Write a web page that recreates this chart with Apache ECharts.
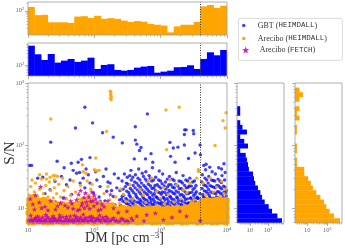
<!DOCTYPE html>
<html><head><meta charset="utf-8">
<script src="https://cdn.jsdelivr.net/npm/echarts@6/dist/echarts.min.js"></script>
<style>html,body{margin:0;padding:0;background:#fff}#c{width:345px;height:250px}</style>
</head><body><div id="c"></div><script>
// ---------- data ----------
const seriesNames = ['GBT (HEIMDALL)', 'Arecibo (HEIMDALL)', 'Arecibo (FETCH)'];
const dmThreshold = 3981;
const dmTicks = [10, 100, 1000, 10000];
const dmMinorTicks = [20,30,40,50,60,70,80,90,200,300,400,500,600,700,800,900,2000,3000,4000,5000,6000,7000,8000,9000];
const snTicks = [10, 100, 1000];
const snMinorTicks = [6,7,8,9,20,30,40,50,60,70,80,90,200,300,400,500,600,700,800,900];
const countTicks = [10, 100];
const countMinorTicks = [3,4,5,6,7,8,9,20,30,40,50,60,70,80,90,200,300,400,500,600,700];
const histTopTicks = [100];
const histTopMinorTicks = [20,30,40,50,60,70,80,90,200,300,400,500,600,700];

const dmBinCenters = [11.2,14.1,17.8,22.4,28.2,35.5,44.7,56.2,70.8,89.1,112,141,178,224,282,355,447,562,708,891,1122,1413,1778,2239,2818,3548,4467,5623,7079,8913];
const areciboDmCounts = [141,67,69,35,35,35,33,59,61,52,63,48,51,48,41,36,39,37,30,28,26,14,24,28,28,36,149,169,128,158];
const gbtDmCounts = [592,268,158,275,124,149,174,132,149,196,69,100,107,63,59,63,78,86,91,49,54,59,81,83,97,69,174,322,244,398];

const snBinCenters = [6.27,7.45,8.86,10.5,12.5,14.9,17.7,21.0,25.0,29.7,35.3,42.0,49.9,59.3,70.4,83.7,99.5,118,141,167,199,236,281,334,397,471,560,666,791,940];
const gbtSnCounts = [580,325,166,109,66,47,38,28,20,17,15,9,8,7,6,3,8,5,3,7,4,3,0,3,3,0,0,0,0,0];
const areciboSnCounts = [430,215,130,89,68,45,28,19,15,11,7,7,3,3,0,3,3,0,0,3,3,0,4,3,4,0,4,6,4,0];

const gbtPoints = [
[72,410],[94,230],[52,190],[22,113],[133,160],[193,136],[10.5,48],[11.3,48],[27.5,56],[45,52],[57,54],[64,60],[86,64],
[630,320],[415,200],[2300,178],[2420,178],[3100,174],[3150,154],[2280,150],[264,110],[415,122],[437,105],[479,83],[505,93],[1380,112],[2275,102],[3925,102],[1550,91],[1820,94],[3300,76],[3980,71],[716,74],[1410,67],[400,61],[590,61],[760,54],[1650,54],[2630,62],[4840,50],[4460,48],[5500,45],[7500,44],[9000,51],
[16.7,31],[25.5,26.7],[32,32],[38,23.6],[43,28],[54,36],[61,25],[68,30],[72,21],[81,34],[86,25],[97,17.4],[109,28],[122,22],[137,32],[154,18.5],[173,25],[194,15.3],[218,21],[45.5,16.4],[34,14.5],[21.5,19.6],[77,13.6],[57.5,12],[122,12.8],[205,11.3],[35,44],[48,40],[60,37],[75,42],
[105,38],[118,15],[145,13],[160,26],[182,19],[230,30],[240,13.5],[150,42],[200,35],[14,30],[18,17],[26,12.5],[40,11.5],[65,10.8],[90,11.2],
[248,11],[257,14],[243,19],[262,27],
[281,10],[290,12.5],[276,16],[294,22],[284,35],
[316,9.5],[327,11.5],[311,13.5],[331,17.5],[322,24],[314,31],
[355,10.5],[368,12],[350,15],[372,19],[361,28],[357,40],
[404,9.2],[418,11],[399,13],[422,16.5],[411,21],[405,26],[416,34],
[452,10],[469,12.2],[447,14.5],[474,18],[461,23],[455,30],[466,42],
[512,9.4],[529,10.8],[506,12.8],[535,15.5],[521,19.5],[514,25],[527,36],
[581,9.8],[600,11.6],[574,13.8],[606,17],[592,21.5],[584,29],[597,38],
[650,9.1],[672,10.5],[644,12.4],[679,14.8],[663,18.5],[655,24],[669,33],
[728,9.6],[754,11.3],[721,13.2],[760,16],[743,20.5],[733,27],[750,44],
[817,9.3],[845,10.9],[809,12.7],[853,15.2],[834,19],[822,23],[841,31],
[925,9.9],[956,11.8],[916,14],[965,17.5],[944,22],[931,28],[951,39],
[1043,9.2],[1078,10.6],[1032,12.3],[1089,14.6],[1064,18],[1050,24.5],[1072,35],
[1171,9.7],[1211,11.4],[1159,13.5],[1223,16.3],[1195,20],[1180,26],
[1318,9.4],[1363,10.9],[1305,12.9],[1377,15.4],[1346,19],[1328,23.5],[1356,32],
[1486,9.8],[1536,11.7],[1470,13.9],[1552,17.2],[1517,21.5],[1497,29],
[1673,9.1],[1729,10.7],[1655,12.5],[1747,15],[1708,18.7],[1685,24],[1720,37],
[1880,9.6],[1943,11.2],[1860,13.3],[1963,16.1],[1918,20.3],[1893,27],
[2116,9.3],[2187,10.8],[2093,12.8],[2209,15.6],[2159,19.4],[2130,25],[2175,33],
[2381,9.9],[2462,11.6],[2356,13.7],[2487,16.8],[2431,21],[2398,28],
[2676,9.2],[2767,10.5],[2648,12.2],[2795,14.4],[2732,17.6],[2695,22.5],[2751,30],
[3011,9.7],[3113,11.3],[2979,13.1],[3145,15.8],[3073,19.8],[3032,26],
[3385,9.5],[3499,11],[3349,12.6],[3535,14.9],[3455,18.2],[3408,23],
[3739,10.2],[3866,12],[3700,14.2],[3905,17],
[4133,9.4],[4273,11.2],[4090,13.6],[4316,16.5],[4218,20.5],[4160,26],[4250,34],
[4625,10.1],[4782,12.1],[4577,14.8],[4830,18.4],[4721,23],[4656,30],[4757,41],
[5166,9.2],[5341,11],[5112,13.2],[5395,16],[5273,19.8],[5200,25],[5313,32],
[5806,9.8],[6003,11.7],[5745,14.2],[6063,17.6],[5926,22],[5844,28],[5971,38],
[6495,9.5],[6715,11.3],[6427,13.7],[6782,16.8],[6629,21],[6538,27],[6680,35],
[7282,10],[7529,12],[7206,14.6],[7604,18],[7433,22.5],[7330,29],
[8168,9.3],[8445,11.1],[8083,13.4],[8529,16.4],[8337,20.2],[8221,25.5],[8400,33],[8280,42],
[9152,9.9],[9462,11.8],[9056,14.3],[9556,17.4],[9341,21.6],[9211,28],[9410,37],
[267,10.3],[270,12.8],[264,15.4],[272,20],
[302,9.8],[306,11.8],[299,14.2],[309,18.6],[304,25],
[340,10.6],[345,12.9],[336,16],[349,20.5],[342,33],
[383,9.9],[389,11.6],[378,14],[392,17.6],[386,23],[380,31],
[434,10.4],[440,12.4],[428,15.2],[444,19.5],[436,25],
[490,9.7],[497,11.5],[484,13.7],[501,16.8],[493,21.5],[487,28],
[553,10.2],[561,12.1],[546,14.6],[566,18],[556,23],[550,32],
[624,9.6],[633,11.2],[616,13.3],[639,16.2],[627,20],[620,27],
[700,10.1],[710,11.9],[692,14.3],[716,17.6],[704,22.5],[696,30],
[785,9.8],[796,11.6],[776,13.9],[803,16.9],[790,21],[781,28],
[885,10.3],[897,12.2],[874,14.8],[905,18],[890,23.5],
[1000,9.7],[1015,11.5],[988,13.6],[1023,16.6],[1006,20.8],[994,27],
[1125,10.2],[1141,12],[1111,14.6],[1150,17.8],[1131,22.6],
[1265,9.9],[1283,11.8],[1250,14.1],[1294,17.3],[1272,21.8],[1258,29],
[1425,10.4],[1446,12.3],[1408,14.9],[1457,18.3],[1433,23.5],
[1600,9.8],[1623,11.5],[1581,13.7],[1636,16.8],[1609,21],[1591,27.5],
[1805,10.1],[1831,12],[1784,14.5],[1846,17.8],[1815,22.5],
[2030,9.7],[2060,11.4],[2006,13.5],[2076,16.5],[2042,20.6],[2019,26.5],
[2285,10.3],[2318,12.2],[2258,14.8],[2337,18.1],[2298,23],
[2570,9.9],[2607,11.7],[2540,14],[2628,17.1],[2585,21.4],[2556,27],
[2890,10.2],[2932,12],[2856,14.5],[2955,17.8],[2906,22.4],
[3250,9.8],[3297,11.6],[3212,13.9],[3324,16.9],[3268,21],[3232,27],
[3620,10.1],[3672,11.9],[3578,14.3],
[4450,10.4],[4514,12.4],[4398,15.2],[4551,18.8],[4475,23.5],
[4980,9.8],[5052,11.6],[4921,14],[5093,17.2],[5008,21.8],[4950,28],
[5570,10.2],[5650,12.2],[5505,14.7],[5696,18.1],[5601,22.8],
[6250,9.9],[6340,11.8],[6177,14.3],[6392,17.4],[6285,21.6],[6215,27.5],
[7000,10.3],[7101,12.3],[6918,14.9],[7159,18.3],[7039,23],
[7850,9.7],[7963,11.6],[7758,14.1],[8028,17.1],[7894,21.3],[7806,27],
[8800,10.1],[8927,12.1],[8697,14.6],[9000,17.9],[8849,22.4],
[9800,10.4],[9700,12.6],[9750,15.5],[9780,19]
];

const areciboCorePoints = [
[10.5,6.1],[10.8,7.2],[10.4,8.4],[10.9,9.6],[10.6,11.2],[10.7,13.4],
[12,6.0],[12.3,7.0],[11.8,8.2],[12.2,9.8],[11.9,11.5],[12.4,13.0],[12.1,14.6],
[14,6.2],[14.3,7.1],[13.8,8.3],[14.2,9.7],[13.9,11.1],[14.4,12.8],
[16.8,6.1],[17.2,7.3],[16.5,8.5],[17,9.9],[16.7,11.4],[17.3,13.2],
[20,6.0],[20.4,7.1],[19.6,8.2],[20.3,9.5],[19.8,11.0],[20.5,12.4],
[23.7,6.1],[24.2,7.2],[23.3,8.4],[24,9.8],[23.5,11.6],
[28.2,6.2],[28.8,7.0],[27.7,8.1],[28.5,9.6],[28,11.2],
[33.5,6.0],[34.2,7.2],[32.9,8.5],[33.9,9.9],[33.2,11.3],
[39.8,6.1],[40.6,7.1],[39.1,8.3],[40.3,9.5],[39.5,10.8],
[47.3,6.2],[48.2,7.3],[46.5,8.2],[47.9,9.6],[46.9,11.0],
[56.2,6.0],[57.3,7.0],[55.3,8.4],[56.9,9.8],[55.8,11.2],
[66.8,6.1],[68.1,7.2],[65.7,8.3],[67.6,9.7],[66.3,11.4],[67.2,13.0],
[79.4,6.2],[81,7.1],[78.1,8.5],[80.4,9.9],[78.8,11.5],[79.9,13.3],
[94.4,6.0],[96.3,7.3],[92.8,8.2],[95.6,9.6],[93.7,11.1],[95,12.6],
[112,6.1],[114,7.0],[110,8.4],[113,9.8],[111,11.3],
[133,6.2],[136,7.2],[131,8.3],[135,9.5],[132,10.9],
[158,6.0],[161,7.1],[155,8.1],[160,9.7],[157,10.6],
[188,6.1],[192,7.3],[185,8.4],[190,9.6],[187,10.8],
[224,6.2],[228,7.0],[220,8.2],[227,9.4],
[266,6.0],[271,7.2],[262,8.5],[269,9.8],
[316,6.1],[322,7.1],[311,8.3],[320,9.5],
[376,6.2],[383,7.3],[370,8.2],[381,9.3],
[447,6.0],[456,7.0],[440,8.4],[453,9.6],
[531,6.1],[541,7.2],[522,8.1],[538,9.2],
[631,6.2],[643,7.1],[621,8.3],[639,9.5],
[750,6.0],[765,7.3],[738,8.5],[760,9.4],
[891,6.1],[908,7.0],[877,8.2],[903,9.7],
[1059,6.2],[1080,7.2],[1042,8.4],[1073,9.3],
[1259,6.0],[1284,7.1],[1239,8.3],[1275,9.6],
[1496,6.1],[1525,7.3],[1472,8.2],[1515,9.4],
[1778,6.2],[1813,7.0],[1750,8.5],[1801,9.8],
[2113,6.0],[2154,7.2],[2079,8.3],[2140,9.5],
[2512,6.1],[2561,7.1],[2472,8.4],[2544,9.9],
[2985,6.2],[3043,7.3],[2937,8.2],[3023,9.6],[2960,10.8],
[3548,6.0],[3617,7.0],[3491,8.3],[3593,9.7],[3520,11.0],
[4217,6.1],[4299,7.2],[4150,8.5],[4271,9.8],[4190,11.3],[4240,12.6],
[5012,6.2],[5110,7.1],[4932,8.2],[5076,9.6],[4980,11.5],[5050,13.0],
[5957,6.0],[6073,7.3],[5862,8.4],[6033,9.9],[5920,11.2],[6000,12.8],
[7079,6.1],[7217,7.0],[6966,8.3],[7170,9.5],[7030,11.0],[7120,13.2],
[8414,6.2],[8578,7.2],[8280,8.1],[8522,9.7],[8360,11.4],[8470,12.9],
[9600,6.0],[9700,7.1],[9500,8.4],[9650,9.8],[9550,11.3],[9680,13.1]
];

const areciboSparsePoints = [
[174,740],[178,700],[176,650],[180,610],[176,570],[179,540],[22,265],[153,167],[1200,370],[1900,410],[9700,335],[8700,250],[9400,190],[6600,100],[1230,86],[105,63],[66,49],[3700,41],[100,41],[108,39],[118,40],
[10.5,16],[11,22],[11.5,28],[12.5,18],[13,25],[14,15.5],[15,20],[16,29],[17,17],[18.5,23],[20,15],[21,26],[22,19],[24,14.5],[25,21],[27,17],[29,24],[31,15],[33,30],[35,19],[38,14],[40,22],[44,16],[48,27],[52,18],[57,14],[62,23],[15,34],[19,29],[21.5,31],[24,33],[26,33],[19,35],[25,28],[28,32],
[68,38],[75,36],[82,16],[88,20],[95,15],[72,17],[78,27],[92,24],
[274,16.4],[347,23.6],[490,19.6],[653,26.7],[733,30],[872,18.5],[1100,21],[1380,28],[1740,23.6],[2190,19.6],[2760,25],[3500,30],[3720,38.5],
[120,12.5],[170,13.5],[240,11.8],[300,12.8],[420,11.2],[600,12.2],[850,10.8],[1150,11.7],[1600,12.4],[2300,11.0],[2900,12.6],
[140,17],[210,15],[160,22],[250,20],[380,14],[550,16],[1000,14.5],[1300,16.5],[2000,14],[2500,17.5],[3200,13.5],
[4400,25],[5560,30],[7000,21.6],[8300,26.7],[9400,20],[4800,16],[6200,18],[7800,15.5],[9000,17]
];

const fetchPoints = [
[10.5,6.1],[11.2,6.6],[12,6.0],[12.8,6.9],[13.6,6.2],[14.5,6.5],[15.5,6.0],[16.6,7.1],[17.8,6.3],[19,6.0],[20.5,6.7],[22,6.2],[23.5,6.0],[25,6.9],[27,6.1],[29,6.5],[31,6.0],[33.5,7.2],[36,6.2],[39,6.0],[42,6.6],[45,6.1],[48.5,6.0],[52,6.8],[56,6.2],[60,6.0],[65,6.5],[70,6.1],[75,7.0],[81,6.0],[87,6.4],[94,6.1],[101,6.0],[109,6.7],[118,6.2],[128,6.0],[140,6.5],[153,6.1],[168,6.0],[185,6.6],[205,6.2],[228,6.0],[255,6.8],[290,6.1],[330,6.0],[380,6.4],
[11,7.6],[14,7.4],[18.5,7.8],[24,7.5],[30,7.7],[38,7.3],[50,7.6],[68,7.9],[90,7.4],[120,7.7],[150,7.3],
[10.2,6.4],[11.6,6.2],[12.4,6.5],[13.2,7.0],[14,6.0],[15,6.8],[16,6.3],[17.2,6.0],[18.4,6.6],[19.7,7.2],[21.2,6.0],[22.8,6.9],[24.3,6.3],[26,6.6],[28,6.0],[30,7.0],[32,6.3],[34.5,6.0],[37.5,6.7],[41,6.2],[43.5,7.4],[47,6.5],[51,6.1],[54,7.2],[58,6.6],[62,7.1],[67,6.2],[72,6.8],[78,6.3],[84,7.2],[91,6.6],[97,7.0],[105,6.3],[113,6.9],[123,6.5],[134,7.1],[146,6.2],[160,6.8],[176,6.3],[195,7.0],[215,6.4],[242,6.1],[270,6.6],[310,6.3],
[10.8,14],[11.8,11.5],[13,16],[14.8,12.3],[15.5,22],[18,10.5],[22,13],[26,9.5],[31,12],[35,14.5],[40,10.2],[46,11.8],[54,13.5],[58,16.5],[62,19],[66,12],[70,14.8],[74,17.5],[78,11],[83,15],[88,12.8],[92,18],[98,10.8],[105,14],[115,9.2],[130,11.5],[160,13],[175,16.5],[195,10],[230,8.5],
[60,9.5],[64,11],[71,10],[76,12.5],[85,9.8],[95,13],[100,16],[110,12],[125,9.5],[140,10.5],[56,9.2],[48,9.8],[44,13],[36,11],[28,10.8],[20,9.2],[16,10],[12.5,9.5],
[310,8.9],[363,6.9],[436,7.4],[560,6.2],[617,7.8],[832,8.3],[1100,6.5],[1479,7.1],[1950,8.9],[2450,7.4],[3950,6.3]
];

// ---------- styling / helpers ----------
const BLUE = '#0000ff', ORANGE = '#ffa500', MAGENTA = '#c000c0';
const SERIF = 'Liberation Serif', MONO = 'Liberation Mono';
const TICK = '#999';
const STAR = 'path://M0,-10L2.35,-3.24L9.51,-3.09L3.8,1.24L5.88,8.09L0,4L-5.88,8.09L-3.8,1.24L-9.51,-3.09L-2.35,-3.24Z';
const SUP = {2:'\u00b2', 3:'\u00b3', 4:'\u2074'};
function powLabel(v) {
  const e = Math.round(Math.log10(v));
  return e === 1 ? '10' : '10' + SUP[e];
}
function logAxes(dim, gridIndex, min, max, majors, minors, withLabels) {
  const common = {type:'log', logBase:10, gridIndex, min, max,
    position: dim === 'x' ? 'bottom' : 'left',
    axisLine:{show:false}, splitLine:{show:false}, minorTick:{show:false}};
  return [
    Object.assign({}, common, {
      axisTick:{show:true, length:3, lineStyle:{color:TICK, width:0.8}, customValues:majors},
      axisLabel: withLabels ? {show:true, customValues:majors, formatter:powLabel, margin:4,
        fontFamily:SERIF, fontSize:6.5, color:'#666'} : {show:false}
    }),
    Object.assign({}, common, {
      axisTick:{show:true, length:1.6, lineStyle:{color:TICK, width:0.6}, customValues:minors},
      axisLabel:{show:false}
    })
  ];
}
const gridBox = {show:true, borderColor:'#999', borderWidth:0.8, backgroundColor:'transparent', z:10, outerBoundsMode:'none', containLabel:false};

const xAxis = [
  {type:'category', gridIndex:0, data:dmBinCenters, show:false, position:'bottom'},      //0
  ...logAxes('x',0,10,10000,dmTicks,dmMinorTicks,false),                                //1,2
  {type:'category', gridIndex:1, data:dmBinCenters, show:false, position:'bottom'},      //3
  ...logAxes('x',1,10,10000,dmTicks,dmMinorTicks,false),                                //4,5
  ...logAxes('x',2,10,10000,dmTicks,dmMinorTicks,true),                                 //6,7
  ...logAxes('x',3,2,750,countTicks,countMinorTicks,true),                              //8,9
  ...logAxes('x',4,2.4,545,countTicks,countMinorTicks,true)                             //10,11
];
Object.assign(xAxis[6], {
  name:'DM [pc cm{sup|\u22123}]', nameLocation:'middle', nameGap:8, nameMoveOverlap:false,
  nameTextStyle:{fontFamily:SERIF, fontSize:14, color:'#333', padding:[0,6,0,0],
    rich:{sup:{fontFamily:SERIF, fontSize:9, color:'#333', verticalAlign:'top'}}}
});
const yAxis = [
  ...logAxes('y',0,11,222,histTopTicks,histTopMinorTicks,true),                          //0,1
  ...logAxes('y',1,36,760,histTopTicks,histTopMinorTicks,true),                          //2,3
  ...logAxes('y',2,5.75,1000,snTicks,snMinorTicks,true),                                //4,5
  {type:'category', gridIndex:3, data:snBinCenters, show:false, position:'left'},       //6
  ...logAxes('y',3,5.75,1000,snTicks,snMinorTicks,false),                               //7,8
  {type:'category', gridIndex:4, data:snBinCenters, show:false, position:'left'},       //9
  ...logAxes('y',4,5.75,1000,snTicks,snMinorTicks,false)                                //10,11
];
Object.assign(yAxis[4], {
  name:'S/N', nameLocation:'middle', nameGap:10, nameMoveOverlap:false,
  nameTextStyle:{fontFamily:SERIF, fontSize:15, color:'#333'}
});

function histBar(xi, yi, counts, color) {
  return {type:'bar', xAxisIndex:xi, yAxisIndex:yi, silent:true, clip:true,
    barWidth:'106%', data: counts.map(v => v > 0 ? v : '-'),
    itemStyle:{color, borderWidth:0}};
}
const thresholdMark = {symbol:['none','none'], silent:true, label:{show:false},
  lineStyle:{type:[1,1.5], color:'#333', width:1}, data:[{xAxis:dmThreshold}]};
function thresholdSeries(xi, yi) {
  return {type:'line', xAxisIndex:xi, yAxisIndex:yi, data:[], silent:true, markLine:thresholdMark, z:5};
}

const legendText = {
  'GBT (HEIMDALL)': '{s|GBT (}{m|HEIMDALL}{s|)}',
  'Arecibo (HEIMDALL)': '{s|Arecibo (}{m|HEIMDALL}{s|)}',
  'Arecibo (FETCH)': '{s|Arecibo (}{m|FETCH}{s|)}'
};
function legendFor(name, top, iconSize) {
  return {data:[name], left:242, top, padding:0, itemWidth:18, itemHeight:iconSize,
    selectedMode:false, z:20, formatter: n => legendText[n],
    textStyle:{color:'#333', rich:{
      s:{fontFamily:SERIF, fontSize:8, color:'#333'},
      m:{fontFamily:MONO, fontSize:7.5, color:'#333'}}}};
}

const chart = echarts.init(document.getElementById('c'), null, {renderer:'canvas', width:345, height:250});
chart.setOption({
  animation:false,
  backgroundColor:'#fff',
  grid:[
    Object.assign({left:28, top:2, width:199, height:33}, gridBox),
    Object.assign({left:28, top:43, width:199, height:33}, gridBox),
    Object.assign({left:28, top:83, width:199, height:140}, gridBox),
    Object.assign({left:237, top:83, width:47, height:140}, gridBox),
    Object.assign({left:295, top:83, width:47, height:140}, gridBox)
  ],
  xAxis, yAxis,
  legend:[
    legendFor(seriesNames[0], 21.5, 3.5),
    legendFor(seriesNames[1], 34.5, 3.5),
    legendFor(seriesNames[2], 46, 7)
  ],
  graphic:[{type:'rect', left:238, top:18, z:1, silent:true,
    shape:{width:104, height:42, r:2},
    style:{fill:'#fff', stroke:'#d0d0d0', lineWidth:0.8}}],
  series:[
    histBar(0, 0, areciboDmCounts, ORANGE),
    thresholdSeries(1, 0),
    histBar(3, 2, gbtDmCounts, BLUE),
    thresholdSeries(4, 2),
    {name:seriesNames[0], type:'scatter', xAxisIndex:6, yAxisIndex:4, data:gbtPoints,
      symbol:'circle', symbolSize:3.4, silent:true, itemStyle:{color:BLUE, opacity:0.75}},
    {name:seriesNames[1], type:'scatter', xAxisIndex:6, yAxisIndex:4, data:areciboCorePoints,
      symbol:'circle', symbolSize:7.5, silent:true, itemStyle:{color:ORANGE, opacity:1}},
    {name:seriesNames[1], type:'scatter', xAxisIndex:6, yAxisIndex:4, data:areciboSparsePoints,
      symbol:'circle', symbolSize:3.4, silent:true, itemStyle:{color:ORANGE, opacity:0.9}},
    {name:seriesNames[2], type:'scatter', xAxisIndex:6, yAxisIndex:4, data:fetchPoints,
      symbol:STAR, symbolSize:5.5, symbolKeepAspect:true, silent:true, itemStyle:{color:MAGENTA, opacity:0.85},
      markLine:thresholdMark},
    histBar(8, 6, gbtSnCounts, BLUE),
    histBar(10, 9, areciboSnCounts, ORANGE)
  ]
});
</script></body></html>
